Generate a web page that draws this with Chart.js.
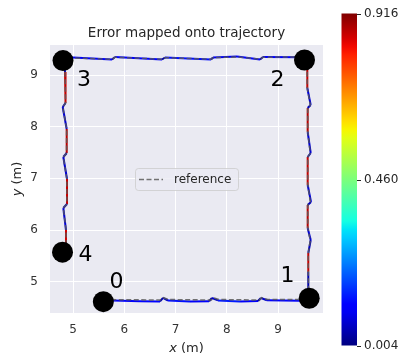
<!DOCTYPE html>
<html><head><meta charset="utf-8">
<script src="https://cdn.jsdelivr.net/npm/chart.js@4.4.0/dist/chart.umd.min.js"></script>
<style>html,body{margin:0;padding:0;background:#fff;overflow:hidden}canvas{display:block}</style>
</head><body>
<canvas id="c" width="405" height="360"></canvas>
<script>
// ---- data ----
const titleText = 'Error mapped onto trajectory';
const trajX = [5.605,6.307,6.698,6.756,6.854,7.283,7.654,7.712,7.829,8.259,8.610,8.668,8.785,9.429,9.600,
  9.591,9.591,9.638,9.579,9.579,9.644,9.579,9.579,9.638,9.579,9.579,9.638,9.572,9.572,
  9.500,8.707,8.649,8.200,7.732,7.693,6.795,6.737,5.820,5.761,5.000,4.824,
  4.844,4.854,4.799,4.877,4.877,4.811,4.883,4.883,4.811,4.863,4.863];
const trajY = [4.640,4.620,4.617,4.685,4.636,4.617,4.622,4.685,4.638,4.617,4.625,4.685,4.640,4.632,4.640,
  5.188,5.556,5.807,6.039,6.484,6.542,6.871,7.413,7.491,7.897,8.361,8.419,8.748,9.270,
  9.345,9.348,9.300,9.358,9.339,9.300,9.339,9.300,9.348,9.300,9.339,9.330,
  9.058,8.458,8.381,7.955,7.491,7.413,6.987,6.503,6.426,6.000,5.671];
const trajErr = [0.03,0.10,0.12,0.04,0.06,0.13,0.10,0.03,0.06,0.14,0.10,0.03,0.06,0.11,0.05,
  0.04,0.86,0.05,0.07,0.87,0.05,0.07,0.86,0.05,0.07,0.87,0.05,0.07,0.86,
  0.05,0.10,0.03,0.12,0.09,0.03,0.13,0.03,0.11,0.03,0.10,0.04,
  0.05,0.86,0.05,0.07,0.87,0.05,0.07,0.86,0.05,0.07,0.85];
const refX = [5.60,6.70,6.76,6.86,7.70,7.74,7.85,8.64,8.68,8.80,9.60,
  9.59,9.59,9.63,9.58,9.58,9.63,9.58,9.58,9.63,9.58,9.58,9.63,9.57,9.57,
  9.50,8.70,8.65,8.20,7.73,7.69,6.80,6.74,5.82,5.76,4.83,
  4.845,4.855,4.80,4.875,4.875,4.81,4.88,4.88,4.81,4.865,4.865];
const refY = [4.655,4.645,4.690,4.655,4.645,4.690,4.655,4.645,4.690,4.655,4.655,
  5.19,5.55,5.80,6.04,6.49,6.55,6.88,7.41,7.49,7.90,8.36,8.42,8.75,9.29,
  9.350,9.345,9.305,9.350,9.335,9.305,9.335,9.305,9.345,9.305,9.335,
  9.06,8.46,8.38,7.96,7.49,7.41,6.99,6.50,6.43,6.00,5.60];
const markX = [5.592,9.609,9.517,4.805,4.795];
const markY = [4.613,4.679,9.290,9.280,5.571];
const markLabels = ['0','1','2','3','4'];
const labelX = [5.849,9.185,8.990,5.215,5.244];
const labelY = [4.985,5.101,8.903,8.903,5.517];
const xTicks = [5,6,7,8,9];
const yTicks = [5,6,7,8,9];
const errMin = 0.004, errMax = 0.916;
const cbTicks = [0.004,0.460,0.916];
const cbTickLabels = ['0.004','0.460','0.916'];
const legendLabel = 'reference';

// ---- colormap (matplotlib jet) ----
const JET = {
  r:[[0,0],[0.35,0],[0.66,1],[0.89,1],[1,0.5]],
  g:[[0,0],[0.125,0],[0.375,1],[0.64,1],[0.91,0],[1,0]],
  b:[[0,0.5],[0.11,1],[0.34,1],[0.65,0],[1,0]]
};
function interp(pts,t){
  for(let i=1;i<pts.length;i++){
    if(t<=pts[i][0]){const [x0,y0]=pts[i-1],[x1,y1]=pts[i];return y0+(y1-y0)*(t-x0)/(x1-x0);}
  }
  return pts[pts.length-1][1];
}
function jet(t){
  t=Math.min(1,Math.max(0,t));
  return 'rgb('+Math.round(255*interp(JET.r,t))+','+Math.round(255*interp(JET.g,t))+','+Math.round(255*interp(JET.b,t))+')';
}
const norm = e => (e-errMin)/(errMax-errMin);

const FONT = '"DejaVu Sans", sans-serif';
const TEXT = '#262626';
Chart.defaults.font.family = FONT;

const bgPlugin = {
  id:'bg',
  beforeDraw(chart){
    const {ctx, chartArea:a} = chart;
    ctx.save();
    ctx.fillStyle='#fff'; ctx.fillRect(0,0,chart.width,chart.height);
    ctx.fillStyle='#EAEAF2'; ctx.fillRect(a.left,a.top,a.right-a.left,a.bottom-a.top);
    ctx.restore();
  }
};

const overlay = {
  id:'overlay',
  afterDraw(chart){
    const {ctx, chartArea:a, scales} = chart;
    const xs=scales.x, ys=scales.y;
    const cx=(a.left+a.right)/2, cy=(a.top+a.bottom)/2;
    ctx.save();
    ctx.fillStyle=TEXT;
    ctx.textBaseline='middle';
    // title
    ctx.font='13.5px '+FONT; ctx.textAlign='center';
    ctx.fillText(titleText, cx, a.top-12);
    // x label
    ctx.textAlign='left';
    ctx.font='italic 13px '+FONT; const w1=ctx.measureText('x').width;
    ctx.font='13px '+FONT; const w2=ctx.measureText(' (m)').width;
    let sx=cx-(w1+w2)/2;
    ctx.font='italic 13px '+FONT; ctx.fillText('x', sx, a.bottom+36);
    ctx.font='13px '+FONT; ctx.fillText(' (m)', sx+w1, a.bottom+36);
    // y label
    ctx.save();
    ctx.translate(17.5, cy); ctx.rotate(-Math.PI/2);
    ctx.font='italic 13px '+FONT; const v1=ctx.measureText('y').width;
    ctx.font='13px '+FONT; const v2=ctx.measureText(' (m)').width;
    let sy=-(v1+v2)/2;
    ctx.font='italic 13px '+FONT; ctx.fillText('y', sy, 0);
    ctx.font='13px '+FONT; ctx.fillText(' (m)', sy+v1, 0);
    ctx.restore();
    // marker labels
    ctx.fillStyle='#000'; ctx.font='22px '+FONT; ctx.textAlign='center';
    for(let i=0;i<markLabels.length;i++){
      ctx.fillText(markLabels[i], xs.getPixelForValue(labelX[i]), ys.getPixelForValue(labelY[i]));
    }
    // legend
    const lw=103, lh=22, lx=cx-lw/2, ly=cy-lh/2;
    ctx.beginPath();
    if(ctx.roundRect) ctx.roundRect(lx+0.5,ly+0.5,lw,lh,3); else ctx.rect(lx+0.5,ly+0.5,lw,lh);
    ctx.fillStyle='rgba(234,234,242,0.8)'; ctx.fill();
    ctx.strokeStyle='rgba(204,204,204,0.8)'; ctx.lineWidth=1; ctx.stroke();
    ctx.beginPath(); ctx.setLineDash([5,2.5]); ctx.strokeStyle='rgba(100,100,100,0.9)'; ctx.lineWidth=1.6;
    ctx.moveTo(lx+4, cy+0.5); ctx.lineTo(lx+28, cy+0.5); ctx.stroke(); ctx.setLineDash([]);
    ctx.fillStyle=TEXT; ctx.font='12px '+FONT; ctx.textAlign='left';
    ctx.fillText(legendLabel, lx+39, cy+0.5);
    // colorbar
    const cbL=341.5, cbR=357, cbT=13.5, cbB=345.5;
    const g=ctx.createLinearGradient(0,cbB,0,cbT);
    for(let k=0;k<=40;k++){const t=k/40; g.addColorStop(t, jet(t));}
    ctx.fillStyle=g; ctx.fillRect(cbL,cbT,cbR-cbL,cbB-cbT);
    ctx.font='12px '+FONT; ctx.textAlign='left'; ctx.strokeStyle=TEXT; ctx.lineWidth=1;
    for(let i=0;i<cbTicks.length;i++){
      const py=cbB-(cbTicks[i]-errMin)/(errMax-errMin)*(cbB-cbT);
      ctx.beginPath(); ctx.moveTo(cbR,Math.round(py)+0.5); ctx.lineTo(cbR+4,Math.round(py)+0.5); ctx.stroke();
      ctx.fillStyle=TEXT; ctx.fillText(cbTickLabels[i], cbR+7, py);
    }
    ctx.restore();
  }
};

new Chart(document.getElementById('c'), {
  type:'line',
  data:{datasets:[
    {label:'marks', data:markX.map((x,i)=>({x,y:markY[i]})), showLine:false,
     pointRadius:10.5, pointBackgroundColor:'#000', pointBorderWidth:0, order:0},
    {label:legendLabel, data:refX.map((x,i)=>({x,y:refY[i]})), borderColor:'rgba(90,90,90,0.85)',
     borderWidth:1.5, borderDash:[5,2.5], pointRadius:0, tension:0, order:1},
    {label:'traj', data:trajX.map((x,i)=>({x,y:trajY[i]})), borderWidth:2, pointRadius:0, tension:0, order:2,
     borderColor:jet(norm(trajErr[1])),
     segment:{borderColor:c=>jet(norm(trajErr[c.p1DataIndex]))}}
  ]},
  options:{
    responsive:false, animation:false, devicePixelRatio:1, events:[],
    layout:{padding:{left:0,right:82,top:45,bottom:0}},
    plugins:{legend:{display:false}, tooltip:{enabled:false}, title:{display:false}},
    scales:{
      x:{type:'linear', min:4.551, max:9.878,
         afterBuildTicks:s=>{s.ticks=xTicks.map(v=>({value:v}));},
         afterFit:s=>{s.height=47;},
         grid:{color:'#fff', lineWidth:1, drawTicks:false}, border:{display:false},
         ticks:{padding:10, color:'#333', font:{size:12}, callback:v=>String(v)}},
      y:{type:'linear', min:4.394, max:9.581,
         afterBuildTicks:s=>{s.ticks=yTicks.map(v=>({value:v}));},
         afterFit:s=>{s.width=50;},
         grid:{color:'#fff', lineWidth:1, drawTicks:false}, border:{display:false},
         ticks:{padding:12, color:'#333', font:{size:12}, callback:v=>String(v)}}
    }
  },
  plugins:[bgPlugin, overlay]
});
</script>
</body></html>
